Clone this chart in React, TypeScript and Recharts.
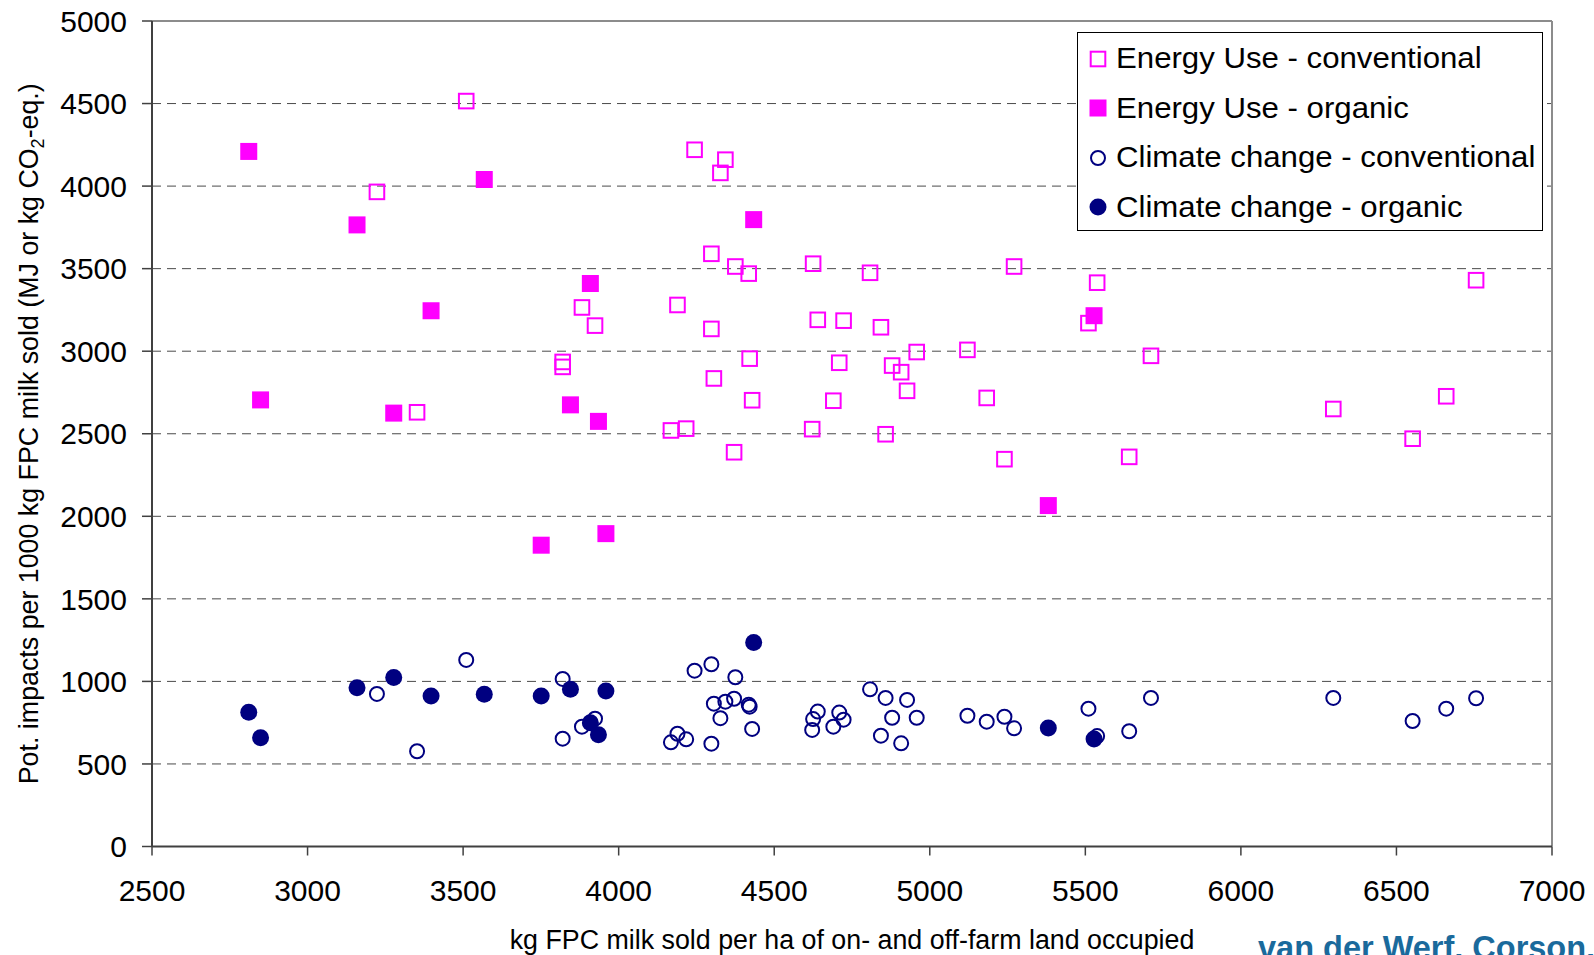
import React from "react";
import {
  ScatterChart,
  Scatter,
  XAxis,
  YAxis,
  CartesianGrid,
  Legend,
  ReferenceLine,
} from "recharts";

// conventional farms: x = kg FPC milk sold per ha
const convX = [
  3223, 3352, 3510, 3820, 3820, 3882, 3924, 4168, 4189, 4217, 4244, 4298, 4298,
  4306, 4327, 4343, 4371, 4375, 4418, 4421, 4429, 4622, 4625, 4640, 4690, 4709,
  4723, 4808, 4843, 4858, 4879, 4908, 4927, 4958, 5121, 5183, 5240, 5271, 5510,
  5538, 5641, 5711, 6297, 6552, 6660, 6756,
];
const convEnergy = [
  3965, 2630, 4515, 2935, 2905, 3265, 3155, 2520, 3280, 2531, 4220, 3590, 3135,
  2835, 4080, 4160, 2388, 3513, 3470, 2955, 2703, 2528, 3530, 3190, 2700, 2930,
  3185, 3475, 3145, 2497, 2913, 2873, 2760, 2995, 3008, 2717, 2346, 3513, 3170,
  3415, 2360, 2972, 2650, 2470, 2727, 3430,
];
const convClimate = [
  924, 577, 1130, 1015, 653, 726, 774, 631, 683, 649, 1065, 1104, 623, 865, 777,
  877, 895, 1025, 859, 847, 712, 706, 772, 817, 726, 811, 768, 952, 671, 900,
  780, 625, 888, 780, 792, 756, 786, 716, 835, 669, 698, 900, 900, 760, 835, 898,
];

// organic farms
const orgX = [2811, 2849, 3159, 3277, 3397, 3568, 3751, 3845, 3909, 3935, 3959, 4434, 5381, 5528];
const orgEnergy = [4210, 2705, 3765, 2625, 3245, 4040, 1825, 2675, 3410, 2575, 1895, 3797, 2065, 3215];
const orgClimate = [813, 659, 962, 1023, 912, 922, 912, 952, 750, 677, 942, 1235, 718, 651];

const xTicks = [2500, 3000, 3500, 4000, 4500, 5000, 5500, 6000, 6500, 7000];
const yTicks = [0, 500, 1000, 1500, 2000, 2500, 3000, 3500, 4000, 4500, 5000];

const FONT = "'Liberation Sans', Arial, Helvetica, sans-serif";
const MAGENTA = "#FF00FF";
const NAVY = "#000080";

const toPoints = (xs: number[], ys: number[]) => xs.map((x, i) => ({ x, y: ys[i] }));

function OpenSquare(p: any) {
  return <rect x={p.cx - 7.3} y={p.cy - 7.3} width={14.6} height={14.6} fill="none" stroke={MAGENTA} strokeWidth={2} />;
}
function FilledSquare(p: any) {
  return <rect x={p.cx - 8.5} y={p.cy - 8.5} width={17} height={17} fill={MAGENTA} />;
}
function OpenCircle(p: any) {
  return <circle cx={p.cx} cy={p.cy} r={7} fill="none" stroke={NAVY} strokeWidth={2} />;
}
function FilledCircle(p: any) {
  return <circle cx={p.cx} cy={p.cy} r={8.5} fill={NAVY} />;
}

const series = [
  { name: "Energy Use - conventional", data: toPoints(convX, convEnergy), shape: OpenSquare },
  { name: "Energy Use - organic", data: toPoints(orgX, orgEnergy), shape: FilledSquare },
  { name: "Climate change - conventional", data: toPoints(convX, convClimate), shape: OpenCircle },
  { name: "Climate change - organic", data: toPoints(orgX, orgClimate), shape: FilledCircle },
];

function LegendBox() {
  return (
    <div
      style={{
        border: "1px solid #000",
        background: "#fff",
        boxSizing: "border-box",
        height: 199,
        width: 466,
        paddingTop: 1,
        fontFamily: FONT,
        fontSize: 29,
        color: "#000",
      }}
    >
      {series.map((s) => {
        const Shape = s.shape;
        return (
          <div key={s.name} style={{ height: 49.5, display: "flex", alignItems: "center" }}>
            <svg width={20} height={20} style={{ marginLeft: 10, marginRight: 8, flex: "none" }}>
              <Shape cx={10} cy={10} />
            </svg>
            <span
              style={{
                whiteSpace: "nowrap",
                display: "inline-block",
                transform: "scaleX(1.075)",
                transformOrigin: "left center",
              }}
            >
              {s.name}
            </span>
          </div>
        );
      })}
    </div>
  );
}

function YTitle(props: any) {
  const vb = props.viewBox || { x: 0, y: 21, width: 152, height: 825 };
  const cx = vb.x + 28;
  const cy = vb.y + vb.height / 2;
  return (
    <text
      x={cx}
      y={cy}
      transform={`rotate(-90 ${cx} ${cy})`}
      textAnchor="middle"
      dy="0.355em"
      fontFamily={FONT}
      fontSize={26.8}
      fill="#000"
    >
      Pot. impacts per 1000 kg FPC milk sold (MJ or kg CO
      <tspan dy={6} fontSize={18}>2</tspan>
      <tspan dy={-6}>-eq.)</tspan>
    </text>
  );
}

function XTitle(props: any) {
  const vb = props.viewBox || { x: 152, y: 846, width: 1400, height: 109 };
  return (
    <text
      x={vb.x + vb.width / 2}
      y={vb.y + 93}
      textAnchor="middle"
      dy="0.355em"
      fontFamily={FONT}
      fontSize={26.8}
      fill="#000"
    >
      kg FPC milk sold per ha of on- and off-farm land occupied
    </text>
  );
}

export default function App() {
  return (
    <div style={{ position: "absolute", left: 0, top: 0, width: 1594, height: 955, overflow: "hidden", background: "#fff" }}>
      <ScatterChart width={1594} height={955} margin={{ top: 21, right: 42, bottom: 0, left: 0 }}>
        <CartesianGrid horizontal vertical={false} stroke="#4a4a4a" strokeDasharray="9 6" />
        <XAxis
          type="number"
          dataKey="x"
          domain={[2500, 7000]}
          ticks={xTicks}
          height={108.5}
          tickSize={9}
          tickMargin={24}
          axisLine={{ stroke: "#404040", strokeWidth: 2 }}
          tickLine={{ stroke: "#404040", strokeWidth: 1.5 }}
          tick={{ fill: "#000", fontSize: 30, fontFamily: FONT }}
          label={{ content: (p: any) => <XTitle {...p} /> }}
        />
        <YAxis
          type="number"
          dataKey="y"
          domain={[0, 5000]}
          ticks={yTicks}
          width={152}
          tickSize={10}
          tickMargin={15}
          axisLine={{ stroke: "#404040", strokeWidth: 2 }}
          tickLine={{ stroke: "#404040", strokeWidth: 1.5 }}
          tick={{ fill: "#000", fontSize: 30, fontFamily: FONT }}
          label={{ content: (p: any) => <YTitle {...p} /> }}
        />
        <ReferenceLine y={5000} stroke="#8c8c8c" strokeWidth={2} />
        <ReferenceLine x={7000} stroke="#8c8c8c" strokeWidth={2} />
        <Legend
          layout="vertical"
          align="center"
          verticalAlign="middle"
          wrapperStyle={{ left: 1077, top: 32, width: 466, height: 199 }}
          content={() => <LegendBox />}
        />
        {series.map((s) => (
          <Scatter key={s.name} name={s.name} data={s.data} shape={s.shape} isAnimationActive={false} />
        ))}
      </ScatterChart>
      <div
        style={{
          position: "absolute",
          left: 1258,
          top: 930,
          fontFamily: FONT,
          fontWeight: "bold",
          fontSize: 32.5,
          color: "#1a6a9c",
          whiteSpace: "nowrap",
        }}
      >
        van der Werf, Corson,
      </div>
    </div>
  );
}
